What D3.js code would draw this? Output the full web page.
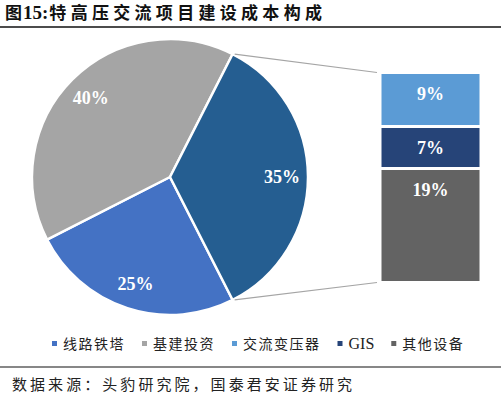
<!DOCTYPE html>
<html>
<head>
<meta charset="utf-8">
<script src="https://d3js.org/d3.v7.min.js"></script>
<style>
  body { margin: 0; background: #fff; }
  svg { display: block; }
</style>
</head>
<body>
<svg width="501" height="397"></svg>
<script>
// main pie: order as in the source sheet, the last slice is split into the bar
const pieCats = ['线路铁塔', '基建投资', '设备'];
const pieValues = [25, 40, 35];
const pieColors = ['#4472C4', '#A5A5A5', '#255E91'];

// the split slice, shown as a stacked bar
const barCats = ['交流变压器', 'GIS', '其他设备'];
const barValues = [9, 7, 19];
const barColors = ['#5B9BD5', '#264478', '#636363'];

const legendCats = ['线路铁塔', '基建投资', '交流变压器', 'GIS', '其他设备'];
const legendColors = ['#4472C4', '#A5A5A5', '#5B9BD5', '#264478', '#636363'];

const titleHead = '图';
const titleNum = '15:';
const titleRest = '特高压交流项目建设成本构成';
const source = '数据来源：头豹研究院，国泰君安证券研究';

const svg = d3.select('svg');
const numFont = '"Liberation Serif", "Times New Roman", serif';
const cjkFont = '"Noto Sans CJK SC", sans-serif';

// title + rule
const tt = svg.append('text')
    .attr('x', 5).attr('y', 19)
    .style('font-family', cjkFont)
    .style('font-weight', 'bold')
    .style('font-size', '17px')
    .style('fill', '#111');
tt.append('tspan').text(titleHead);
tt.append('tspan').attr('dx', 1)
    .style('font-family', numFont).style('font-size', '19px')
    .text(titleNum);
tt.append('tspan').attr('dx', 1).style('letter-spacing', '4.3px').text(titleRest);
svg.append('line')
    .attr('x1', 0).attr('x2', 501).attr('y1', 27).attr('y2', 27)
    .style('stroke', '#111').style('stroke-width', 1.5);

// pie
const cx = 170, cy = 177, r = 138;
const total = d3.sum(pieValues);
const splitShare = pieValues[2] / total;
// rotate so the split slice is centred at 3 o'clock
const start = Math.PI / 2 + splitShare * Math.PI;
const pie = d3.pie().sort(null).startAngle(start).endAngle(start + 2 * Math.PI);
const arcs = pie(pieValues);
const arc = d3.arc().innerRadius(0).outerRadius(r);
const labelArc = d3.arc().innerRadius(112).outerRadius(112);

const g = svg.append('g').attr('transform', `translate(${cx},${cy})`);
g.selectAll('path')
    .data(arcs)
    .enter()
    .append('path')
    .attr('d', arc)
    .attr('fill', (d, i) => pieColors[i])
    .style('stroke', '#fff')
    .style('stroke-width', 2.5)
    .style('stroke-linejoin', 'round');

g.selectAll('text')
    .data(arcs)
    .enter()
    .append('text')
    .attr('transform', d => `translate(${labelArc.centroid(d)})`)
    .attr('text-anchor', 'middle')
    .attr('dy', '0.35em')
    .style('font-family', numFont)
    .style('font-weight', 'bold')
    .style('font-size', '18px')
    .style('fill', '#fff')
    .text(d => d.value + '%');

// stacked bar
const barX = 380, barW = 101;
const yScale = d3.scaleLinear().domain([0, d3.sum(barValues)]).range([72.5, 282.5]);
const stacked = [];
let acc = 0;
barValues.forEach((v, i) => {
    stacked.push({ v: v, y0: acc, y1: acc + v, i: i });
    acc += v;
});

svg.selectAll('rect.seg')
    .data(stacked)
    .enter()
    .append('rect')
    .attr('class', 'seg')
    .attr('x', barX)
    .attr('width', barW)
    .attr('y', d => yScale(d.y0))
    .attr('height', d => yScale(d.y1) - yScale(d.y0))
    .attr('fill', d => barColors[d.i])
    .style('stroke', '#fff')
    .style('stroke-width', 3);

svg.selectAll('text.seg')
    .data(stacked)
    .enter()
    .append('text')
    .attr('class', 'seg')
    .attr('x', barX + barW / 2)
    .attr('y', d => yScale(d.y0) + 21)
    .attr('dy', '0.35em')
    .attr('text-anchor', 'middle')
    .style('font-family', numFont)
    .style('font-weight', 'bold')
    .style('font-size', '18px')
    .style('fill', '#fff')
    .text(d => d.v + '%');

// connector lines from the split slice to the bar
const split = arcs[2];
const pt = a => [cx + r * Math.sin(a), cy - r * Math.cos(a)];
const pTop = pt(split.startAngle), pBot = pt(split.endAngle);
svg.append('line')
    .attr('x1', pTop[0] + 2).attr('y1', pTop[1])
    .attr('x2', barX - 3).attr('y2', yScale(0))
    .style('stroke', '#A5A5A5').style('stroke-width', 1.2);
svg.append('line')
    .attr('x1', pBot[0] + 2).attr('y1', pBot[1])
    .attr('x2', barX - 3).attr('y2', yScale(d3.sum(barValues)))
    .style('stroke', '#A5A5A5').style('stroke-width', 1.2);

// legend
let lx = 52;
const legend = svg.append('g');
legendCats.forEach((name, i) => {
    legend.append('rect')
        .attr('x', lx).attr('y', 341)
        .attr('width', 5).attr('height', 5)
        .attr('fill', legendColors[i]);
    const t = legend.append('text')
        .attr('x', lx + 11).attr('y', 349)
        .style('font-size', '14px')
        .style('fill', '#222')
        .text(name);
    if (name === 'GIS') {
        t.style('font-family', numFont).style('font-size', '16px');
    } else {
        t.style('font-family', cjkFont).style('letter-spacing', '1.5px');
    }
    lx = lx + 11 + t.node().getComputedTextLength() + 17;
});

// bottom rule + source
svg.append('line')
    .attr('x1', 0).attr('x2', 501).attr('y1', 367).attr('y2', 367)
    .style('stroke', '#111').style('stroke-width', 1.2);
svg.append('text')
    .attr('x', 12).attr('y', 390)
    .attr('textLength', 340).attr('lengthAdjust', 'spacing')
    .style('font-family', cjkFont)
    .style('font-size', '15px')
    .style('fill', '#222')
    .text(source);
</script>
</body>
</html>
